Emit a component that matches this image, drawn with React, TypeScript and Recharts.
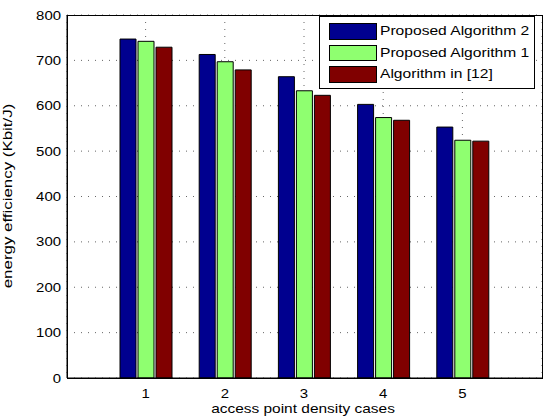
import { BarChart, Bar, XAxis, YAxis, CartesianGrid, Label } from "recharts";

const categories = ["1", "2", "3", "4", "5"];
const proposed2 = [747, 713, 664, 603, 553];
const proposed1 = [742, 697, 633, 574, 524];
const ref12 = [729, 679, 623, 568, 522];
const yTicks = [0, 100, 200, 300, 400, 500, 600, 700, 800];

const SERIES = [
  { key: "p2", name: "Proposed Algorithm 2", color: "#00008F" },
  { key: "p1", name: "Proposed Algorithm 1", color: "#8FFF70" },
  { key: "r12", name: "Algorithm in [12]", color: "#800000" },
];

const data = categories.map((c, i) => ({ name: c, p2: proposed2[i], p1: proposed1[i], r12: ref12[i] }));

const FONT = "'Liberation Sans', Arial, Helvetica, sans-serif";

const stretch = (x: number, y: number, s: number) => `translate(${x} ${y}) scale(${s} 1)`;

const YTick = ({ x, y, payload }: any) => (
  <text transform={stretch(x, y + 4.5, 1.15)} textAnchor="end" fontSize={13} fontFamily={FONT} fill="#000">
    {payload.value}
  </text>
);

const XTick = ({ x, y, payload }: any) => (
  <text transform={stretch(x, y + 19.5, 1.15)} textAnchor="middle" fontSize={13} fontFamily={FONT} fill="#000">
    {payload.value}
  </text>
);

// legend drawn as an overlay so it takes no room from the plot
const LegendBox = () => (
  <div style={{ position: "absolute", left: 319, top: 16, width: 214, height: 65, border: "1px solid #000", background: "#fff", paddingTop: 6 }}>
    {SERIES.map(s => (
      <div key={s.key} style={{ height: 21.7, display: "flex", alignItems: "flex-start" }}>
        <div style={{ marginLeft: 9, width: 46, height: 14.5, background: s.color, border: "1px solid #000" }} />
        <span style={{ marginLeft: 3, fontFamily: FONT, fontSize: 13, lineHeight: "16px", color: "#000", display: "inline-block", transform: "scaleX(1.2)", transformOrigin: "left center", whiteSpace: "nowrap" }}>
          {s.name}
        </span>
      </div>
    ))}
  </div>
);

export default function App() {
  return (
    <div style={{ position: "fixed", left: 0, top: 0, width: 543, height: 419, background: "#fff" }}>
      <BarChart width={543} height={419} data={data} margin={{ top: 15, right: 1, left: 0, bottom: 0 }} barSize={16} barGap={2}>
        <CartesianGrid stroke="#666" strokeDasharray="1 6" />
        <XAxis dataKey="name" height={41} padding={{ left: 39, right: 40 }} tickLine={false} tickSize={0} tickMargin={0}
          axisLine={{ stroke: "#000" }} tick={<XTick />} interval={0}>
          <Label content={() => (
            <text transform={stretch(303, 413, 1.19)} textAnchor="middle" fontSize={13} fontFamily={FONT} fill="#000">
              access point density cases
            </text>
          )} />
        </XAxis>
        <YAxis width={67} domain={[0, 800]} ticks={yTicks} tickLine={false} tickSize={0} tickMargin={6}
          axisLine={{ stroke: "#000" }} tick={<YTick />} interval={0}>
          <Label content={() => (
            <text transform={`translate(12 196) rotate(-90) scale(1.3 1)`} textAnchor="middle" fontSize={13} fontFamily={FONT} fill="#000">
              energy efficiency (Kbit/J)
            </text>
          )} />
        </YAxis>
        {SERIES.map(s => (
          <Bar key={s.key} dataKey={s.key} name={s.name} fill={s.color} stroke="#000" strokeWidth={1} isAnimationActive={false} />
        ))}
      </BarChart>
      {/* plot frame (top and right edges) */}
      <div style={{ position: "absolute", left: 67, top: 15, width: 474, height: 362, border: "1px solid #000", pointerEvents: "none" }} />
      <LegendBox />
    </div>
  );
}
